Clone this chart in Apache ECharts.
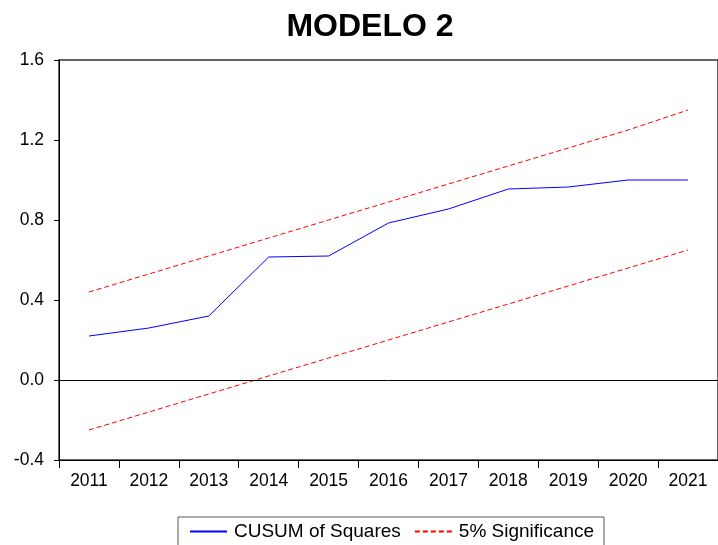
<!DOCTYPE html>
<html>
<head>
<meta charset="utf-8">
<script src="https://cdn.jsdelivr.net/npm/echarts@6/dist/echarts.min.js"></script>
<style>
html,body{margin:0;padding:0;background:#fff}
#main{width:718px;height:545px}
</style>
</head>
<body>
<div id="main"></div>
<script>
const years=['2011','2012','2013','2014','2015','2016','2017','2018','2019','2020','2021']
const cusumSq=[0.22,0.26,0.32,0.615,0.62,0.785,0.855,0.955,0.965,1.0,1.0]
const upper=[0.44,0.53,0.62,0.71,0.80,0.89,0.98,1.07,1.16,1.25,1.35]
const lower=[-0.25,-0.16,-0.07,0.02,0.11,0.20,0.29,0.38,0.47,0.56,0.65]

const chartDom=document.getElementById('main')
let myChart=echarts.init(chartDom)
let option;
option={
    backgroundColor:'#fff',
    animation:false,
    title:{
        text:'MODELO 2',
        left:365,
        textAlign:'center',
        top:6,
        textStyle:{fontFamily:'Liberation Sans',fontSize:32,fontWeight:'bold',color:'#000'}
    },
    grid:{
        left:59,top:60,width:666,height:400,
        show:true,borderColor:'#333',borderWidth:1.5
    },
    legend:{
        data:['CUSUM of Squares','5% Significance'],
        left:178,top:517,
        itemWidth:37,itemHeight:10,itemGap:13,
        padding:[5,10,10,11],
        borderColor:'#555',borderWidth:1,
        itemStyle:{opacity:0},
        textStyle:{fontFamily:'Liberation Sans',fontSize:19,color:'#000',padding:[0,0,0,2]}
    },
    xAxis:{
        type:'category',
        data:years,
        boundaryGap:true,
        axisLine:{onZero:false,lineStyle:{color:'#000',width:1}},
        axisTick:{show:true,length:8,lineStyle:{color:'#000'}},
        axisLabel:{color:'#000',fontFamily:'Liberation Sans',fontSize:17.5,margin:12}
    },
    yAxis:{
        type:'value',
        min:-0.4,max:1.6,interval:0.4,
        axisLine:{show:true,lineStyle:{color:'#000',width:1}},
        axisTick:{show:true,length:5,lineStyle:{color:'#000'}},
        splitLine:{show:false},
        axisLabel:{color:'#000',fontFamily:'Liberation Sans',fontSize:17.5,margin:15,
            formatter:v=>v.toFixed(1)}
    },
    series:[
        {
            name:'CUSUM of Squares',type:'line',data:cusumSq,
            symbol:'none',
            lineStyle:{color:'#0000ff',width:1},
            itemStyle:{color:'#0000ff'},
            markLine:{
                silent:true,symbol:'none',label:{show:false},
                lineStyle:{color:'#000',type:'solid',width:1},
                data:[{yAxis:0}]
            }
        },
        {
            name:'5% Significance',type:'line',data:upper,
            symbol:'none',
            lineStyle:{color:'#ff0000',width:1,type:[5,3]},
            itemStyle:{color:'#ff0000'}
        },
        {
            name:'5% Significance',type:'line',data:lower,
            symbol:'none',
            lineStyle:{color:'#ff0000',width:1,type:[5,3]},
            itemStyle:{color:'#ff0000'}
        }
    ]
}

option && myChart.setOption(option);
</script>
</body>
</html>
